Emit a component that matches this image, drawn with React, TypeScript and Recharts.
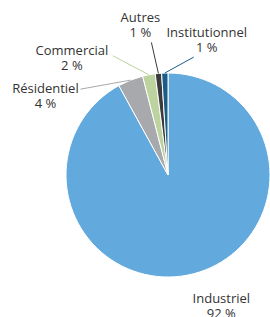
import React from 'react';
import { PieChart, Pie, Cell } from 'recharts';

const categories = ['Industriel', 'Résidentiel', 'Commercial', 'Autres', 'Institutionnel'];
const shares = [92, 4, 2, 1, 1];
const colors = ['#62a9dd', '#a7a9ac', '#bdd39f', '#3b3b3d', '#1c5d87'];

// label offsets relative to the slice's outer edge point
const labelLayout: Record<string, { tx: number; ty: number; lx?: number; ly?: number }> = {
  Industriel: { tx: 28, ty: 24 },
  'Résidentiel': { tx: -85, ty: 8, lx: -50, ly: 9 },
  Commercial: { tx: -77, ty: -25, lx: -36, ly: -19 },
  Autres: { tx: -18, ty: -56, lx: -7, ly: -31 },
  Institutionnel: { tx: 42, ty: -41, lx: 29, ly: -16 },
};

const data = categories.map((name, i) => ({ name, value: shares[i] }));

const RADIAN = Math.PI / 180;

const renderLabel = (props: any) => {
  const { cx, cy, midAngle, outerRadius, name, value, index } = props;
  const px = cx + outerRadius * Math.cos(-midAngle * RADIAN);
  const py = cy + outerRadius * Math.sin(-midAngle * RADIAN);
  const l = labelLayout[name];
  const tx = px + l.tx;
  const ty = py + l.ty;
  const font = { fill: '#333', fontSize: 13, fontFamily: "'Open Sans', sans-serif" };
  return (
    <g>
      {l.lx !== undefined && (
        <line x1={px} y1={py} x2={px + l.lx} y2={py + (l.ly || 0)} stroke={colors[index]} strokeWidth={1} />
      )}
      <text x={tx} y={ty} textAnchor="middle" dominantBaseline="central" {...font}>{name}</text>
      <text x={tx} y={ty + 15} textAnchor="middle" dominantBaseline="central" {...font}>{`${value} %`}</text>
    </g>
  );
};

export default function App() {
  return (
    <div style={{ position: 'absolute', left: 0, top: 0, background: 'white' }}>
      <PieChart width={270} height={317} margin={{ top: 0, right: 0, bottom: 0, left: 0 }}>
        <Pie
          data={data}
          dataKey="value"
          nameKey="name"
          cx={168}
          cy={175}
          outerRadius={102}
          startAngle={90}
          endAngle={-270}
          stroke="#fff"
          strokeWidth={1}
          label={renderLabel}
          labelLine={false}
          isAnimationActive={false}
        >
          {data.map((d, i) => (
            <Cell key={d.name} fill={colors[i]} />
          ))}
        </Pie>
      </PieChart>
    </div>
  );
}
